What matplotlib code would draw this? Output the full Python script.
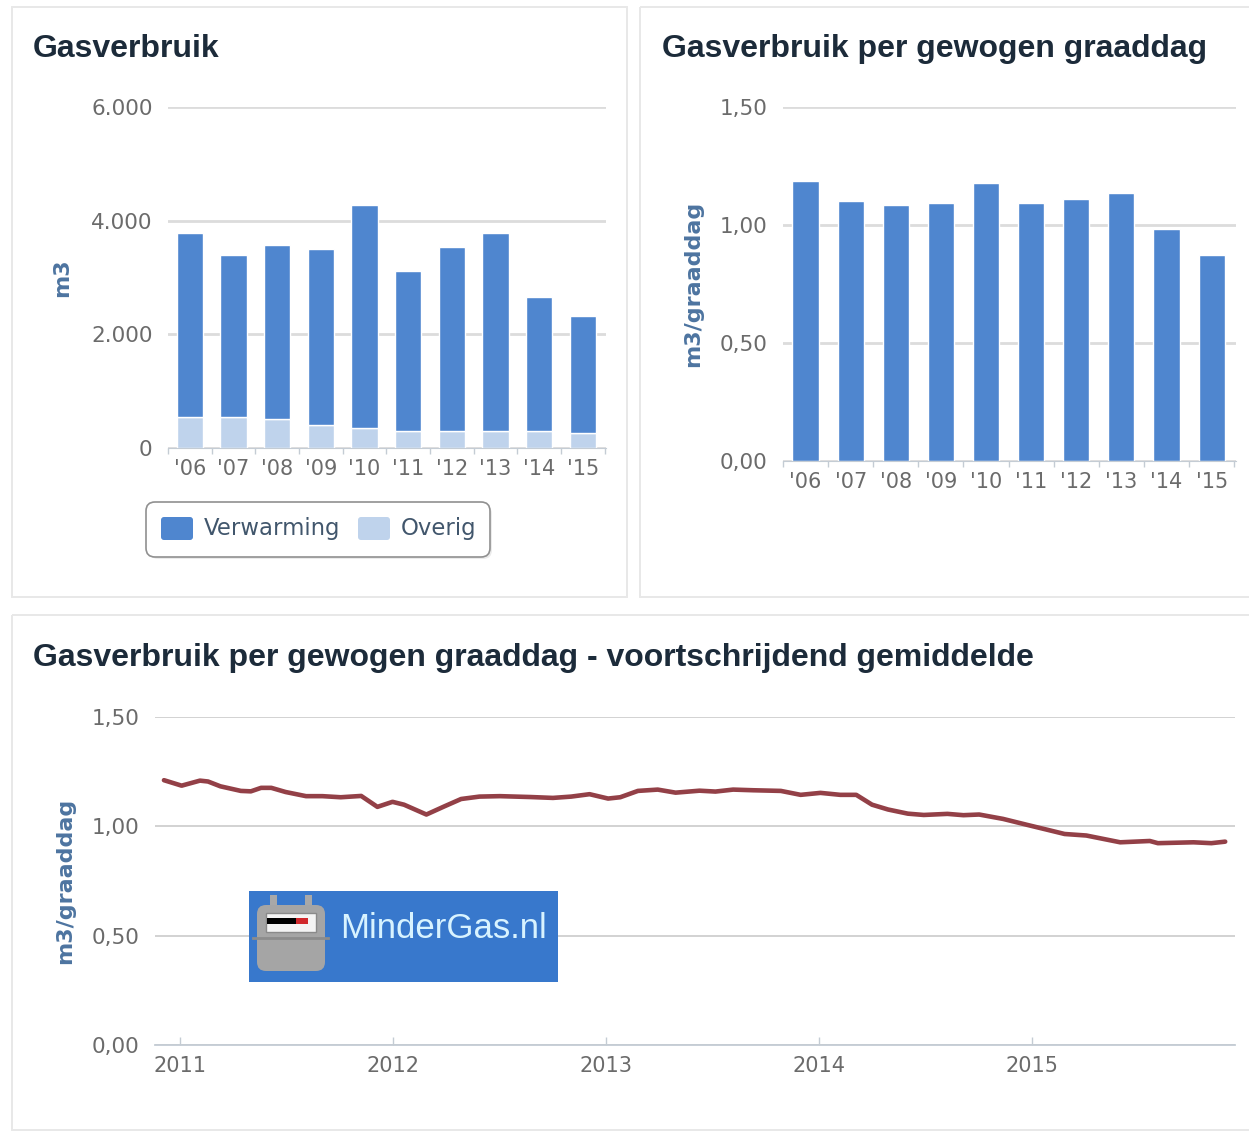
import matplotlib
matplotlib.use("Agg")
from matplotlib import pyplot as plt
from matplotlib.patches import Rectangle, FancyBboxPatch

W, H = 1249, 1132

YEARS = ["'06", "'07", "'08", "'09", "'10", "'11", "'12", "'13", "'14", "'15"]
GAS_TOTAL = [3783, 3396, 3572, 3501, 4276, 3114, 3537, 3783, 2657, 2323]
GAS_OTHER = [545, 545, 510, 405, 352, 300, 300, 300, 300, 264]
GAS_HEATING = [t - o for t, o in zip(GAS_TOTAL, GAS_OTHER)]
PER_DEGREE_DAY = [1.188, 1.102, 1.083, 1.094, 1.178, 1.094, 1.110, 1.136, 0.983, 0.875]

GAS_TICKS = [0, 2000, 4000, 6000]
GAS_TICK_LABELS = ["0", "2.000", "4.000", "6.000"]
RATE_TICKS = [0, 0.5, 1.0, 1.5]
RATE_TICK_LABELS = ["0,00", "0,50", "1,00", "1,50"]
LINE_YEAR_TICKS = [2011, 2012, 2013, 2014, 2015]

ROLLING_T = [2010.923, 2011.006, 2011.092, 2011.130, 2011.188, 2011.284, 2011.331, 2011.379,
             2011.427, 2011.494, 2011.590, 2011.667, 2011.753, 2011.849, 2011.925, 2011.996,
             2012.050, 2012.155, 2012.241, 2012.318, 2012.404, 2012.500, 2012.644, 2012.749,
             2012.835, 2012.921, 2013.008, 2013.065, 2013.148, 2013.241, 2013.325, 2013.437,
             2013.512, 2013.595, 2013.689, 2013.819, 2013.912, 2014.005, 2014.098, 2014.173,
             2014.247, 2014.322, 2014.415, 2014.490, 2014.601, 2014.676, 2014.750, 2014.862,
             2014.974, 2015.067, 2015.151, 2015.253, 2015.412, 2015.551, 2015.589, 2015.756,
             2015.840, 2015.905]
ROLLING_V = [1.211, 1.186, 1.209, 1.205, 1.183, 1.162, 1.160, 1.176,
             1.176, 1.157, 1.138, 1.138, 1.133, 1.139, 1.089, 1.112,
             1.099, 1.054, 1.092, 1.125, 1.136, 1.138, 1.134, 1.130,
             1.136, 1.147, 1.127, 1.133, 1.162, 1.168, 1.154, 1.163,
             1.159, 1.168, 1.165, 1.162, 1.144, 1.153, 1.144, 1.144,
             1.099, 1.077, 1.058, 1.052, 1.057, 1.051, 1.054, 1.034,
             1.007, 0.985, 0.965, 0.958, 0.927, 0.933, 0.923, 0.927,
             0.923, 0.930]

BLUE = "#4f86cf"
LIGHT_BLUE = "#bfd3ec"
GRID = "#dcdcdc"
AXIS = "#c4ccd4"
TICK_TEXT = "#6b6b6b"
TITLE_TEXT = "#1c2b3a"
LABEL_TEXT = "#4d74a0"
LEGEND_TEXT = "#41566c"
TICK_FONT = "DejaVu Sans"
TITLE_FONT = "Liberation Sans"


def px_axes(fig, x0, y0, x1, y1):
    # axes placed by pixel box, y measured from the top
    return fig.add_axes([x0 / W, 1 - y1 / H, (x1 - x0) / W, (y1 - y0) / H])


def style_axes(ax, ticks, labels, top, ylabel, label_x, grid_lw=2.0, grid_color=GRID):
    ax.set_facecolor("none")
    ax.set_ylim(0, top)
    ax.set_yticks(ticks, labels)
    ax.tick_params(axis="y", length=0, pad=11, labelsize=15.5, labelcolor=TICK_TEXT)
    for lab in ax.get_yticklabels():
        lab.set_fontfamily(TICK_FONT)
    for name in ["top", "right", "left"]:
        ax.spines[name].set_visible(False)
    ax.spines["bottom"].set_color(AXIS)
    ax.set_axisbelow(True)
    ax.grid(axis="y", color=grid_color, lw=grid_lw)
    ax.set_ylabel(ylabel, family="DejaVu Sans", weight="bold", fontsize=16, color=LABEL_TEXT)
    bbox = ax.get_position()
    ax.yaxis.set_label_coords((label_x / W - bbox.x0) / bbox.width, 0.5)


def category_ticks(ax, right):
    ax.set_xlim(-0.5, right)
    ax.set_xticks([i - 0.5 for i in range(len(YEARS) + 1)], [""] * (len(YEARS) + 1))
    ax.set_xticks(range(len(YEARS)), YEARS, minor=True)
    ax.tick_params(axis="x", which="major", length=4, width=1, color=AXIS)
    ax.tick_params(axis="x", which="minor", length=0, pad=8, labelsize=15, labelcolor=TICK_TEXT)
    for lab in ax.get_xticklabels(minor=True):
        lab.set_fontfamily(TICK_FONT)


def draw_meter_badge(ov):
    ov.add_patch(Rectangle((249, 891), 309, 91, fc="#3878cc", ec="none", zorder=5))
    for kx in [270, 305]:
        ov.add_patch(Rectangle((kx, 895), 7, 11, fc="#a8a8a8", ec="none", zorder=6))
    ov.add_patch(FancyBboxPatch((257, 905), 68, 66, boxstyle="round,pad=0,rounding_size=9",
                                fc="#a5a5a5", ec="none", zorder=6))
    ov.add_patch(Rectangle((266, 913), 50, 19, fc="#f4f4f4", ec="#8a8a8a", lw=1, zorder=7))
    ov.add_patch(Rectangle((267, 918), 29, 6, fc="#000000", ec="none", zorder=8))
    ov.add_patch(Rectangle((296, 918), 12, 6, fc="#d0282c", ec="none", zorder=8))
    ov.plot([253, 328], [938, 938], color="#8c8c8c", lw=2, zorder=8)
    ov.text(340, 928, "MinderGas.nl", family=TITLE_FONT, fontsize=25, color="#d8f3ff",
            va="center", ha="left", zorder=8)


def draw_overlay(fig):
    ov = fig.add_axes([0, 0, 1, 1], zorder=10)
    ov.set_xlim(0, W)
    ov.set_ylim(H, 0)
    ov.axis("off")

    # panel frames
    for x, y, w, h in [(12, 7, 615, 590), (640, 7, 620, 590), (12, 615, 1250, 515)]:
        ov.add_patch(Rectangle((x, y), w, h, fc="none", ec="#e8e8e8", lw=1.4, clip_on=True))

    titles = [(33, 49, "Gasverbruik"), (662, 49, "Gasverbruik per gewogen graaddag"),
              (33, 658, "Gasverbruik per gewogen graaddag - voortschrijdend gemiddelde")]
    for x, y, s in titles:
        ov.text(x, y, s, family=TITLE_FONT, weight="bold", fontsize=23, color=TITLE_TEXT,
                va="center", ha="left")

    # legend box under the first chart
    ov.add_patch(FancyBboxPatch((149, 505), 343, 54, boxstyle="round,pad=0,rounding_size=9",
                                fc="#d8d8d8", ec="none", alpha=0.5))
    ov.add_patch(FancyBboxPatch((146, 502), 344, 55, boxstyle="round,pad=0,rounding_size=9",
                                fc="white", ec="#909090", lw=1.2))
    ov.add_patch(FancyBboxPatch((161, 517), 32, 23, boxstyle="round,pad=0,rounding_size=3",
                                fc=BLUE, ec="none"))
    ov.add_patch(FancyBboxPatch((358, 517), 32, 23, boxstyle="round,pad=0,rounding_size=3",
                                fc=LIGHT_BLUE, ec="none"))
    ov.text(204, 529, "Verwarming", family=TICK_FONT, fontsize=16.4, color=LEGEND_TEXT, va="center")
    ov.text(401, 529, "Overig", family=TICK_FONT, fontsize=16.4, color=LEGEND_TEXT, va="center")

    draw_meter_badge(ov)


def main():
    fig = plt.figure(figsize=(W / 100, H / 100), dpi=100, facecolor="white")

    # stacked yearly consumption
    ax1 = px_axes(fig, 168, 107, 606, 448)
    style_axes(ax1, GAS_TICKS, GAS_TICK_LABELS, 6000, "m3", 72)
    ax1.bar(range(len(YEARS)), GAS_OTHER, width=0.6, color=LIGHT_BLUE, edgecolor="white", lw=1)
    ax1.bar(range(len(YEARS)), GAS_HEATING, bottom=GAS_OTHER, width=0.6, color=BLUE,
            edgecolor="white", lw=1)
    category_ticks(ax1, 9.53)

    # consumption per weighted degree day
    ax2 = px_axes(fig, 783, 107, 1236, 461)
    style_axes(ax2, RATE_TICKS, RATE_TICK_LABELS, 1.5, "m3/graaddag", 703)
    ax2.bar(range(len(YEARS)), PER_DEGREE_DAY, width=0.58, color=BLUE, edgecolor="white", lw=1)
    category_ticks(ax2, 9.54)

    # rolling average
    ax3 = px_axes(fig, 155, 717, 1235, 1045)
    style_axes(ax3, RATE_TICKS, RATE_TICK_LABELS, 1.5, "m3/graaddag", 75, grid_lw=1.3, grid_color="#cfcfcf")
    ax3.plot(ROLLING_T, ROLLING_V, color="#934047", lw=3.3, solid_capstyle="round", solid_joinstyle="round")
    ax3.set_xlim(2010.881, 2015.951)
    ax3.set_xticks(LINE_YEAR_TICKS, [str(y) for y in LINE_YEAR_TICKS])
    ax3.tick_params(axis="x", direction="in", length=6, width=1, color=AXIS, pad=8, labelsize=15,
                    labelcolor=TICK_TEXT)
    for lab in ax3.get_xticklabels():
        lab.set_fontfamily(TICK_FONT)
    ax3.spines["bottom"].set_linewidth(1.3)

    draw_overlay(fig)
    fig.savefig("out.png", dpi=100)


if __name__ == "__main__":
    main()
